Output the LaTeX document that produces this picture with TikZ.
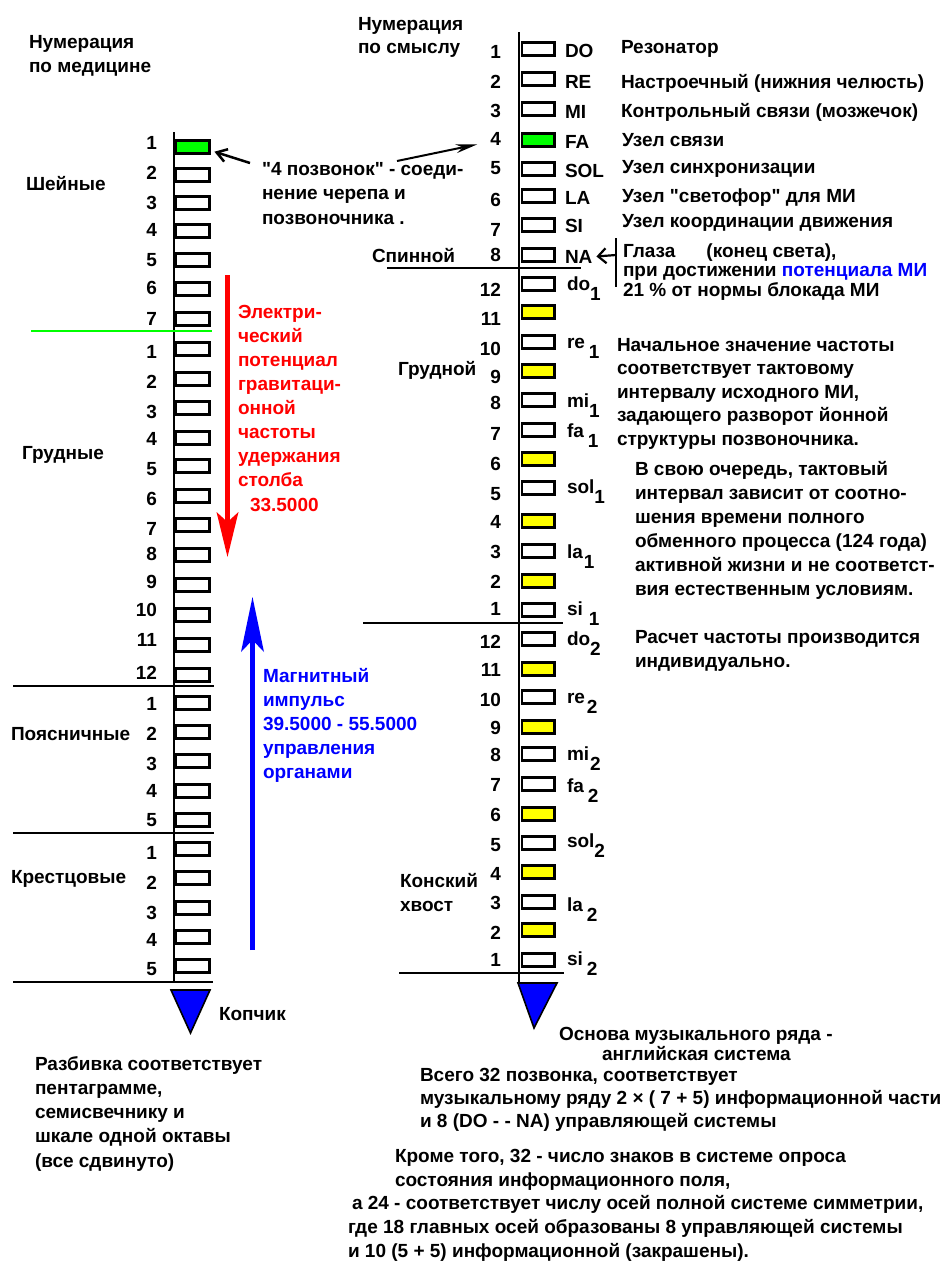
\documentclass[tikz,border=0pt]{standalone}
\usepackage{fontspec}
\setmainfont{Liberation Sans}[Ligatures=TeXOff]
\usetikzlibrary{arrows.meta}
\definecolor{pgreen}{RGB}{0,255,0}
\definecolor{pyellow}{RGB}{255,255,0}
\definecolor{pred}{RGB}{255,0,0}
\definecolor{pblue}{RGB}{0,0,255}
\newcommand\lowsub[1]{\raisebox{-10pt}{#1}}
\newcommand\mylines[5]{\foreach \s [count=\k from 0] in {#5}{\node[txt] (#1\k) at (#2,{#3+#4*\k}) {\s};}}
\begin{document}
\begin{tikzpicture}[x=1pt,y=-1pt,
  txt/.style={font=\fontsize{19}{24}\selectfont\bfseries, inner sep=0pt, outer sep=0pt, anchor=base west},
  num/.style={txt, anchor=base east},
  lbox/.style={draw=black, line width=2.6pt, minimum width=33.8pt, minimum height=13.4pt, inner sep=0pt, outer sep=0pt, anchor=north west},
  rbox/.style={lbox, minimum width=32.7pt},
  axisline/.style={draw=black, line width=1.4pt},
  sepline/.style={draw=black, line width=2pt},
  smallarr/.style={draw=black, line width=2.5pt, -{Straight Barb[length=10pt,width=13pt]}},
  longarr/.style={draw=black, line width=2pt, -{Stealth[length=22pt,width=9pt,line width=0pt]}},
]
\useasboundingbox (0,0) rectangle (944,1261);
\fill[white] (0,0) rectangle (944,1261);

% axes
\draw[axisline] (174,132) -- (174,983);
\draw[axisline] (519,32) -- (519,983);

% left separators
\draw[line width=2pt, pgreen] (31,331) -- (212,331);
\draw[sepline] (13,686) -- (214,686);
\draw[sepline] (13,833) -- (214,833);
\draw[sepline] (13,982) -- (213,982);

% right separators
\draw[sepline] (387,268) -- (581,268);
\draw[sepline] (363,623) -- (563,623);
\draw[sepline] (399,973) -- (564,973);

% left column
\foreach \t/\c/\n/\f [count=\i from 0] in {139/142.5/1/pgreen,167/173/2/white,195/202.5/3/white,223/229.5/4/white,252/260/5/white,281/288/6/white,311/318.5/7/white,
341/351.5/1/white,371/381.5/2/white,400/411.5/3/white,430/439/4/white,458/468.5/5/white,488/498.5/6/white,517/528.5/7/white,547/553.5/8/white,577/581.5/9/white,607/610/10/white,637/640/11/white,667/673/12/white,
695/703.5/1/white,724/733.5/2/white,753/763.5/3/white,783/791/4/white,812/820/5/white,
841/852.5/1/white,870/883/2/white,900/912.5/3/white,929/939.5/4/white,958/969/5/white}{
  \node[lbox, fill=\f] (lb\i) at (175.6,{\t+1.3}) {};
  \node[num] (ln\i) at (157,{\c+6.8}) {\n};
}

% right column, upper part
\foreach \t/\c/\n/\l/\b/\f [count=\i from 0] in {41/52/1/DO/57/white,71/82/2/RE/88/white,101/111/3/MI/118/white,132/138.5/4/FA/148/pgreen,161/168/5/SOL/177/white,188/200/6/LA/204/white,217/230/7/SI/232/white,247/255/8/NA/263/white}{
  \node[rbox, fill=\f] (rb\i) at (522,{\t+1.3}) {};
  \node[num] (rn\i) at (501,{\c+6.8}) {\n};
  \node[txt] (rl\i) at (565,\b) {\l};
}
% right column, lower part
\foreach \t/\c/\n/\l/\b/\f [count=\i from 8] in {
276/290/12/{do\lowsub{1}}/290/white,
304/319/11/{}/300/pyellow,
334/348.5/10/{re\hspace{4pt}\lowsub{1}}/348/white,
363/376.5/9/{}/370/pyellow,
392/402.5/8/{mi\lowsub{1}}/407/white,
422/433.5/7/{fa\hspace{4pt}\lowsub{1}}/437/white,
451/463.5/6/{}/460/pyellow,
480/493.5/5/{sol\lowsub{1}}/493/white,
513/521.5/4/{}/520/pyellow,
543/551.5/3/{la\hspace{1pt}\lowsub{1}}/558/white,
573/581.5/2/{}/580/pyellow,
602/608.5/1/{si\hspace{6pt}\lowsub{1}}/615/white,
631/641.5/12/{do\lowsub{2}}/645/white,
661/670/11/{}/670/pyellow,
689/699.5/10/{re\hspace{2pt}\lowsub{2}}/703/white,
719/727.5/9/{}/730/pyellow,
746/754.5/8/{mi\hspace{1pt}\lowsub{2}}/760/white,
776/785/7/{fa\hspace{4pt}\lowsub{2}}/792/white,
806/815/6/{}/815/pyellow,
835/845/5/{sol\lowsub{2}}/847/white,
864/873.5/4/{}/875/pyellow,
894/902.5/3/{la\hspace{4pt}\lowsub{2}}/911/white,
922/933/2/{}/935/pyellow,
952/960/1/{si\hspace{4pt}\lowsub{2}}/965/white}{
  \node[rbox, fill=\f] (rb\i) at (522,{\t+1.3}) {};
  \node[num] (rn\i) at (501,{\c+6.8}) {\n};
  \node[txt] (rl\i) at (567,\b) {\l};
}

% coccyx triangles
\draw[line width=1.6pt, fill=pblue] (171,990) -- (210,990) -- (190.5,1033) -- cycle;
\draw[line width=1.6pt, fill=pblue] (518,983) -- (557,983) -- (534,1028) -- cycle;

% big arrows
\draw[line width=5pt, pred, -{Stealth[length=45pt,width=22pt,inset=10pt,line width=0pt]}] (227.5,275) -- (227.5,557);
\draw[line width=5pt, pblue, -{Stealth[length=55pt,width=23pt,inset=12pt,line width=0pt]}] (252.5,950) -- (252.5,597);

% headers
\mylines{lh}{29}{48}{24}{{Нумерация},{по медицине}}
\mylines{rh}{358}{30}{23}{{Нумерация},{по смыслу}}

% left region labels
\node[txt] (cerv) at (26,190) {Шейные};
\node[txt] (thor) at (22,459) {Грудные};
\node[txt] (lumb) at (11,740) {Поясничные};
\node[txt] (sacr) at (11,883) {Крестцовые};
\node[txt] (kop) at (219,1020) {Копчик};

% right region labels
\node[txt] (spin) at (372,262) {Спинной};
\node[txt] (grud) at (398,375) {Грудной};
\mylines{kon}{400}{887}{24}{{Конский},{хвост}}

% red text
\begin{scope}[every node/.append style={text=pred}]
\mylines{el}{238}{318}{24}{{Электри-},{ческий},{потенциал},{гравитаци-},{онной},{частоты},{удержания},{столба}}
\node[txt] (elv) at (250,511) {33.5000};
\end{scope}

% blue text
\begin{scope}[every node/.append style={text=pblue}]
\mylines{mg}{263}{682}{24.2}{{Магнитный},{импульс},{39.5000 - 55.5000},{управления},{органами}}
\end{scope}

% 4th vertebra note
\mylines{pz}{262}{175}{24.5}{{"4 позвонок" - соеди-},{нение черепа и},{позвоночника .}}
\draw[smallarr] ([xshift=-12pt,yshift=12pt]pz0.base west) -- ([xshift=5pt,yshift=2pt]lb0.south east);
\draw[longarr] ([xshift=135pt,yshift=14pt]pz0.base west) -- ([xshift=-13pt,yshift=1pt]rn3.base west);

% right descriptions
\node[txt] (d1) at (621,53) {Резонатор};
\node[txt] (d2) at (621,88) {Настроечный (нижния челюсть)};
\node[txt] (d3) at (621,117) {Контрольный связи (мозжечок)};
\node[txt] (d4) at (622,146) {Узел связи};
\node[txt] (d5) at (622,173) {Узел синхронизации};
\node[txt] (d6) at (622,202) {Узел "светофор" для МИ};
\node[txt] (d7) at (622,227) {Узел координации движения};

% bracket note for NA
\draw[line width=2pt] (616,238) -- (616,287);
\coordinate (brk) at (616,255);
\draw[black, line width=2.2pt, -{Straight Barb[length=8pt,width=15pt]}] (brk) -- ([xshift=4pt]rl7.east);
\mylines{gl}{623}{257}{19.5}{{Глаза\hspace{31pt}(конец света),},{при достижении \textcolor{pblue}{потенциала МИ}},{21 \% от нормы блокада МИ}}

% middle right texts
\mylines{na}{617}{351}{23.6}{{Начальное значение частоты},{соответствует тактовому},{интервалу исходного МИ,},{задающего разворот йонной},{структуры позвоночника.}}
\mylines{vs}{635}{475}{24}{{В свою очередь, тактовый},{интервал зависит от соотно-},{шения времени полного},{обменного процесса (124 года)},{активной жизни и не соответст-},{вия естественным условиям.}}
\mylines{ra}{635}{643}{24}{{Расчет частоты производится},{индивидуально.}}

% bottom left text
\mylines{bl}{35}{1070}{24.3}{{Разбивка соответствует},{пентаграмме,},{семисвечнику и},{шкале одной октавы},{(все сдвинуто)}}

% bottom right texts
\node[txt] (os1) at (559,1040) {Основа музыкального ряда -};
\node[txt] (os2) at (602,1060) {английская система};
\mylines{vg}{420}{1081}{23}{{Всего 32 позвонка, соответствует},{музыкальному ряду 2 × ( 7 + 5) информационной части},{и 8 (DO - - NA)  управляющей системы}}
\mylines{kr}{395}{1162}{24}{{Кроме того, 32 - число знаков в системе опроса},{состояния информационного поля,}}
\node[txt] (a24) at (352,1209) {а 24 - соответствует числу осей полной системе симметрии,};
\node[txt] (g18) at (348,1233) {где 18 главных осей образованы 8 управляющей системы};
\node[txt] (i10) at (348,1257) {и 10 (5 + 5) информационной (закрашены).};
\end{tikzpicture}
\end{document}
